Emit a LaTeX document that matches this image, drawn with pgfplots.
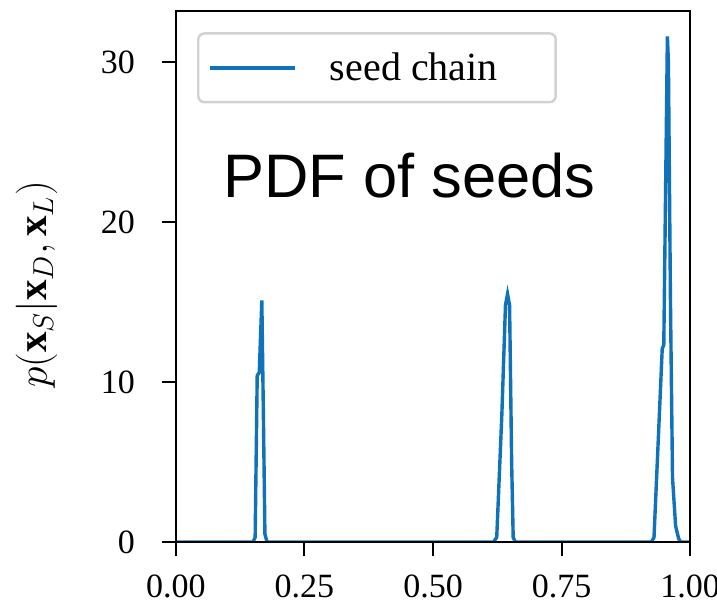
\documentclass[border=0pt]{standalone}
\usepackage{fontspec}
\setmainfont{Liberation Serif}
\newfontfamily\arialf{Liberation Sans}
\usepackage{pgfplots}
\pgfplotsset{compat=1.18}
\definecolor{sc}{RGB}{16,115,185}
\begin{document}
\begin{tikzpicture}
\begin{axis}[
  scale only axis, width=257pt, height=265.5pt,
  xmin=0, xmax=1, ymin=0, ymax=33.19,
  xtick={0,0.25,0.5,0.75,1}, ytick={0,10,20,30},
  x tick label style={yshift=-6pt, /pgf/number format/fixed, /pgf/number format/fixed zerofill, /pgf/number format/precision=2},
  y tick label style={xshift=-10pt},
  /pgf/number format/assume math mode=true,
  tick align=outside, tick pos=left, major tick length=7pt,
  tick style={black, line width=1pt},
  axis line style={black, line width=1.2pt},
  ticklabel style={font=\fontsize{17}{17}\selectfont},
  ylabel={$p(\mathbf{x}_S|\mathbf{x}_D,\mathbf{x}_L)$},
  ylabel style={font=\fontsize{20.5}{20.5}\selectfont, yshift=15pt, xshift=-4pt},
  axis on top,
  legend cell align=left,
  legend style={at={(0.041,0.960)}, anchor=north west, draw=black!18, line width=1.2pt,
    rounded corners=3pt, inner xsep=5pt, inner ysep=7.5pt,
    font=\fontsize{20}{20}\selectfont},
  legend image code/.code={\draw[#1,line width=2pt] (0pt,0pt) -- (42.5pt,0pt); \path (57pt,0pt);},
]
\addplot[sc, line width=1.7pt] table {
x y
0.000 0
0.150 0
0.154 0.3
0.158 10.4
0.162 10.6
0.167 15.1
0.170 8
0.173 0.5
0.177 0
0.618 0
0.624 0.3
0.634 8
0.641 14.8
0.645 15.5
0.649 14.8
0.653 5
0.656 0.3
0.660 0
0.925 0
0.930 0.3
0.946 12.1
0.949 12.3
0.956 31.6
0.958 30
0.962 15
0.966 4
0.972 1
0.978 0.2
0.982 0
1.000 0
};
\addlegendentry{seed chain\hspace*{22pt}}
\node[font=\arialf\fontsize{30.7}{30.7}\selectfont] at (axis cs:0.454,22.9) {PDF of seeds};
\end{axis}
\pgfresetboundingbox
\useasboundingbox ([xshift=-88pt,yshift=-32pt]current axis.south west) rectangle ([xshift=13.5pt,yshift=5.5pt]current axis.north east);
\end{tikzpicture}
\end{document}
